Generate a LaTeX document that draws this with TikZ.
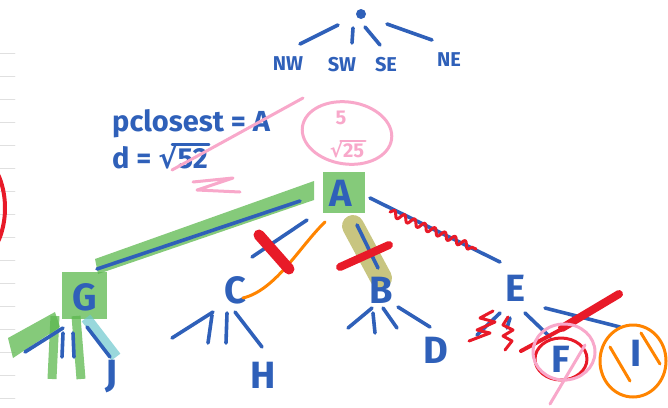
\documentclass[tikz,border=0pt]{standalone}
\usepackage{fontspec}
\setmainfont{Fira Sans}
\newfontfamily\symf{DejaVu Sans}
\usetikzlibrary{decorations.pathmorphing}
\definecolor{inkblue}{RGB}{47,96,185}
\definecolor{inkred}{RGB}{232,26,40}
\definecolor{inkorange}{RGB}{255,132,0}
\definecolor{inkpink}{RGB}{248,168,202}
\definecolor{hlgreen}{RGB}{92,184,78}
\definecolor{hlolive}{RGB}{186,182,96}
\definecolor{hlcyan}{RGB}{110,200,205}
\begin{document}
\begin{tikzpicture}[x=1pt,y=-1pt,line cap=round,line join=round,
 ink/.style={inkblue,line width=3.6pt},
 key/.style={text=inkblue,inner sep=1pt,font=\fontsize{38}{40}\selectfont\bfseries},
 dir/.style={text=inkblue,inner sep=1pt,font=\fontsize{20}{22}\selectfont\bfseries},
 note/.style={anchor=base west,text=inkblue,inner sep=0,font=\fontsize{29}{30}\selectfont\bfseries},
 hl/.style={fill=hlgreen,opacity=.75}]
\useasboundingbox (0,0) rectangle (668,407);
\foreach \y in {53,76,...,398} \draw[black!12,line width=.8pt] (0,\y) -- (15,\y);
\draw[inkred,line width=4pt] (-40,208) ellipse [x radius=45,y radius=63];
\fill[hl] (314,181) -- (314,200) -- (98,274) -- (95,259) -- cycle;
\fill[hl] (323,172) rectangle (365,213);
\fill[hl] (62,272) rectangle (107,319);
\fill[hl] (8,338) -- (55,312) -- (60,327) -- (13,358) -- cycle;
\draw[hlgreen,opacity=.75,line width=9pt,line cap=butt] (55,316) -- (52,379) (76,316) -- (81,379);
\draw[hlcyan,opacity=.7,line width=11pt,line cap=butt] (86,318) -- (116,357);
\draw[hlolive,opacity=.8,line width=22pt] (353,226) -- (381,278);
\node[circle,fill=inkblue,inner sep=0,minimum size=10pt] (root) at (361,14) {};
\foreach \n/\x/\y/\lab in {nw/288/64/NW,sw/342/65/SW,se/386/65/SE,ne/449/60/NE}{
 \node[dir] (\n) at (\x,\y) {\lab};
}
\foreach \a/\b/\c/\d in {-23/11/-61/30,-8/14/-9/29,4/13/19/31,26/10/71/26}{
 \draw[ink] ([shift={(\a,\b)}]root.center) -- ([shift={(\c,\d)}]root.center);
}
\node[note] (best) at (112,131) {pclosest = A};
\node[note] (dist) at (112,168) {d = {\symf √}52};
\draw[inkblue,line width=2.6pt] ([shift={(-36,1)}]dist.north east) -- ([shift={(1,1)}]dist.north east);
\draw[inkpink,line width=3pt] (172,170) -- (303,98);
\draw[inkpink,line width=3pt] (193,182) -- (233,178) -- (197,190) -- (240,192);
\node[anchor=base,text=inkpink,inner sep=0,font=\fontsize{20}{22}\selectfont\bfseries] (five) at (341,124) {5};
\node[anchor=base,text=inkpink,inner sep=0,font=\fontsize{20}{22}\selectfont\bfseries] (root25) at (347,157) {{\symf √}25};
\draw[inkpink,line width=2.4pt] ([shift={(-24,1)}]root25.north east) -- ([shift={(1,1)}]root25.north east);
\draw[inkpink,line width=3pt,rotate around={-8:(347,133)}] (347,133) ellipse [x radius=45,y radius=31];
\foreach \n/\x/\y in {A/341/193,G/85/297,C/235/290,B/381/290,E/515/288,J/112/377,H/263/375,D/436/350,F/561/359,I/636/353}{
 \node[key] (\n) at (\x,\y) {\n};
}
\draw[ink] ([shift={(-41,8)}]A.center) -- ([shift={(12,-28)}]G.center);
\draw[ink] ([shift={(-34,27)}]A.center) -- ([shift={(17,-33)}]C.center);
\draw[ink] ([shift={(16,32)}]A.center) -- ([shift={(-3,-22)}]B.center);
\draw[ink] ([shift={(29,5)}]A.center) -- ([shift={(-15,-26)}]E.center);
\foreach \n/\a/\b/\c/\d in {G/-60/55/-22/31,G/-22/36/-23/60,G/-12/36/-11/60,G/2/30/25/60,
 C/-63/48/-22/22,C/-23/25/-27/53,C/-8/23/-9/53,C/0/22/27/57,
 B/-9/18/-33/38,B/-8/23/-6/43,B/2/18/16/38,B/17/17/49/37,
 E/-15/25/-38/47,E/-5/30/-8/40,E/10/25/35/49,E/30/20/105/39}{
 \draw[ink] ([shift={(\a,\b)}]\n.center) -- ([shift={(\c,\d)}]\n.center);
}
\draw[inkorange,line width=3pt] ([shift={(-16,29)}]A.center) .. controls (300,246) and (276,290) .. ([shift={(8,8)}]C.center);
\draw[inkred,line width=11pt] (259,235) -- (289,269);
\draw[inkred,line width=8pt] (340,267) -- (389,245);
\draw[inkred,line width=3pt,decorate,decoration={snake,amplitude=3.5pt,segment length=11pt}] (390,212) -- (476,249);
\draw[inkred,line width=3pt] (493,311) -- (480,318) -- (495,322) -- (477,330) -- (490,333) -- (469,341);
\draw[inkred,line width=3pt] (508,317) -- (503,325) -- (513,330) -- (503,336) -- (512,341) -- (505,350);
\draw[inkred,line width=4pt] (521,351) -- (560,330);
\draw[inkred,line width=8pt] (562,328) -- (619,294);
\draw[inkred,line width=3pt] (F) ellipse [x radius=26,y radius=21];
\draw[inkpink,line width=3pt] ([shift={(3,-7)}]F.center) ellipse [x radius=31,y radius=28];
\draw[inkpink,line width=3pt] (550,404) -- (585,345);
\draw[inkorange,line width=3pt] ([shift={(-3,8)}]I.center) ellipse [x radius=33,y radius=36];
\draw[inkorange,line width=3pt] (610,347) -- (630,381) (641,333) -- (660,364);
\end{tikzpicture}
\end{document}
